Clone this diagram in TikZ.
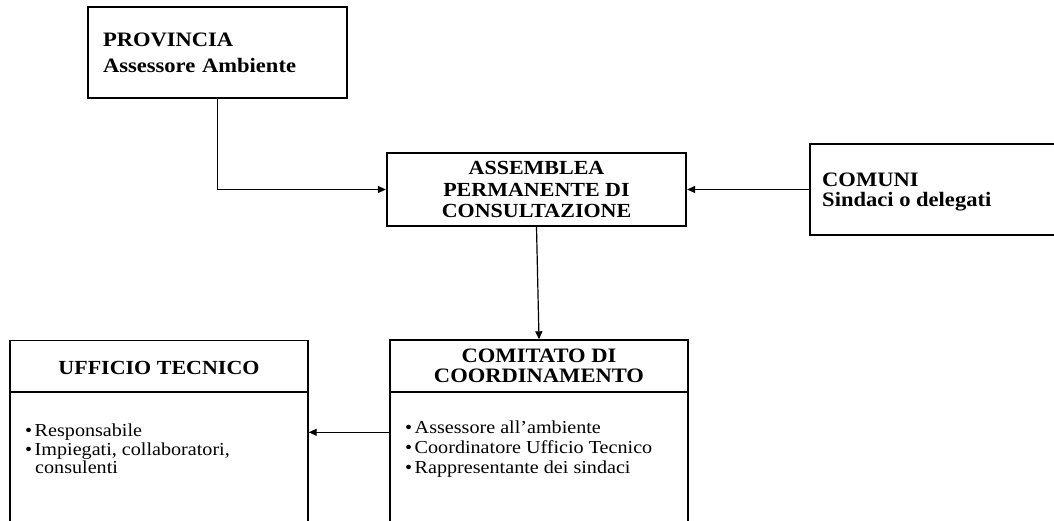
\documentclass[tikz,border=0pt]{standalone}
\usepackage{fontspec}
\setmainfont{Liberation Serif}[FakeStretch=1.1]
\usetikzlibrary{arrows.meta}
\begin{document}
\begin{tikzpicture}[x=1pt,y=-1pt,
  topbox/.style={draw=black, line width=2.3pt, inner ysep=0pt},
  lowbox/.style={draw=black, line width=1.4pt, inner sep=0pt},
  conn/.style={draw=black, line width=1.2pt, -{Triangle[length=8pt,width=7pt]}},
  ttl/.style={font=\fontsize{20}{21.5}\selectfont\bfseries},
  txt/.style={font=\fontsize{18.3}{20}\selectfont, inner sep=0pt, align=left, anchor=north west}
]
\useasboundingbox (0,0) rectangle (1054,521);
\begin{scope}
\clip (0,0) rectangle (1054,521);
% top boxes
\node[topbox, minimum width=259pt, minimum height=91pt, text width=229pt, inner xsep=15pt, align=left,
      font=\fontsize{20.5}{26}\selectfont\bfseries] (prov) at (217.5,52.5) {PROVINCIA\\Assessore Ambiente};
\node[topbox, ttl, minimum width=299pt, minimum height=73pt, align=center] (asm) at (536.5,189.5)
      {ASSEMBLEA\\PERMANENTE DI\\CONSULTAZIONE};
\node[topbox, minimum width=250pt, minimum height=91pt] (com) at (935,189.5) {};
\node[inner sep=0pt, anchor=north west, align=left, font=\fontsize{20.5}{20}\selectfont\bfseries]
      (comtext) at (822,173) {COMUNI\\Sindaci o delegati};
% comitato
\node[lowbox, minimum width=298pt, minimum height=52pt, align=center, font=\fontsize{20.5}{20}\selectfont\bfseries]
      (ctitle) at (539,366) {COMITATO DI\\COORDINAMENTO};
\node[lowbox, minimum width=298pt, minimum height=148pt] (cbody) at (539,466) {};
\node[txt] (ctext) at (405,421) {\textbullet\hspace{2.5pt}Assessore all'ambiente\\
  \textbullet\hspace{2.5pt}Coordinatore Ufficio Tecnico\\
  \textbullet\hspace{2.5pt}Rappresentante dei sindaci};
% ufficio
\node[lowbox, ttl, minimum width=298pt, minimum height=52pt, anchor=north] (utitle) at (159,340)
      {\raisebox{0pt}[16pt][0pt]{UFFICIO TECNICO}};
\node[lowbox, minimum width=298pt, minimum height=148pt] (ubody) at (159,466) {};
\node[txt, font=\fontsize{18.3}{18.5}\selectfont] (utext) at (25,424) {\textbullet\hspace{2.5pt}Responsabile\\
  \textbullet\hspace{2.5pt}Impiegati, collaboratori,\\
  \hspace*{10pt}consulenti};
% connectors
\draw[conn] (prov.south) |- (asm.west);
\draw[conn] (com.west) -- (asm.east);
\draw[conn] (asm.south) -- (ctitle.north);
\draw[conn] ([yshift=-41pt]cbody.north west) -- ([yshift=-41pt]ubody.north east);
\end{scope}
\end{tikzpicture}
\end{document}
